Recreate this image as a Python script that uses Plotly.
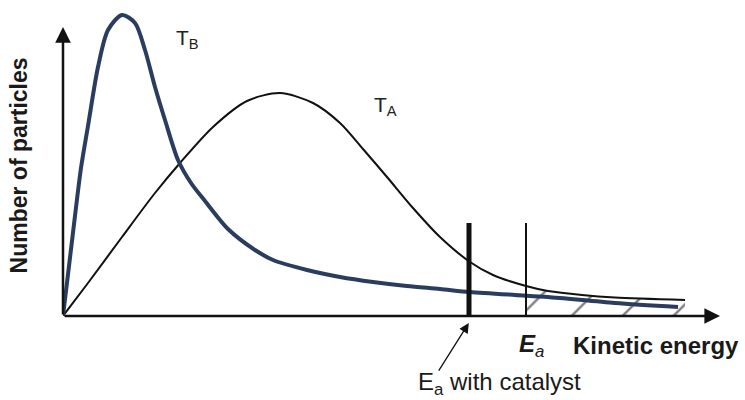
import plotly.graph_objects as go

# Maxwell–Boltzmann style energy distributions at two temperatures
energy_tb = [0, 0.9, 1.8, 2.5, 3.5, 4.5, 5.9, 7.2, 8.2, 9.2, 10.2, 11.5, 12.8, 14.2, 16.5,
             19.2, 21.0, 24.4, 27.7, 31.0, 34.4, 37.7, 40.7, 45.2, 48.5, 55.2, 61.5]
count_tb = [0, 7.5, 14.8, 19.0, 24.9, 28.6, 30.1, 29.3, 26.6, 22.9, 19.6, 15.6, 13.3, 11.5, 8.7,
            6.6, 5.6, 4.6, 3.9, 3.4, 3.0, 2.7, 2.4, 2.1, 1.9, 1.3, 0.9]

energy_ta = [0, 2.5, 5.9, 9.2, 11.7, 15.0, 18.4, 21.7, 25.0, 27.7, 30.0, 32.4, 35.0,
             37.7, 40.7, 43.0, 46.3, 48.5, 51.9, 55.2, 62.2]
count_ta = [0, 3.3, 7.9, 12.3, 15.3, 18.9, 21.5, 22.3, 21.3, 19.3, 16.7, 13.9, 10.8,
            7.9, 5.4, 4.1, 3.0, 2.5, 2.1, 1.85, 1.6]

# activation energies (with and without catalyst)
EA_CATALYST = 40.6
EA = 46.3
EA_MARK_HEIGHT = 9.3

X_MAX = 66.2
Y_MAX = 30.6

INK = "#111111"
BLUE = "#2b3d5e"
FONT = "Liberation Sans, Arial, sans-serif"

fig = go.Figure()

# shaded region of particles above Ea
tail_x = [e for e in energy_ta if e >= EA]
tail_y = [c for e, c in zip(energy_ta, count_ta) if e >= EA]
fig.add_trace(go.Scatter(
    x=tail_x, y=tail_y, mode="lines", line=dict(width=0),
    fill="tozeroy", fillcolor="rgba(0,0,0,0)",
    fillpattern=dict(shape="/", size=36, solidity=0.065,
                     fgcolor="#000000", bgcolor="rgba(0,0,0,0)"),
    hoverinfo="skip", showlegend=False,
))

fig.add_trace(go.Scatter(
    x=energy_ta, y=count_ta, mode="lines",
    line=dict(color=INK, width=2, shape="spline", smoothing=0.8),
    name="T_A", showlegend=False,
))
fig.add_trace(go.Scatter(
    x=energy_tb, y=count_tb, mode="lines",
    line=dict(color=BLUE, width=4, shape="spline", smoothing=0.8),
    name="T_B", showlegend=False,
))

fig.add_shape(type="line", xref="x", yref="y", x0=EA_CATALYST, x1=EA_CATALYST,
              y0=0, y1=EA_MARK_HEIGHT, line=dict(color=INK, width=5))
fig.add_shape(type="line", xref="x", yref="y", x0=EA, x1=EA,
              y0=0, y1=EA_MARK_HEIGHT, line=dict(color=INK, width=2))


def label_font(size):
    return dict(size=size, color="#1a1a1a", family=FONT)


annotations = [
    # axes drawn as arrows
    dict(x=65.7, y=0, ax=0, ay=0, xref="x", yref="y", axref="x", ayref="y",
         text="", showarrow=True, arrowhead=2, arrowsize=1.25, arrowwidth=2.5,
         arrowcolor=INK),
    dict(x=0, y=28.9, ax=0, ay=0, xref="x", yref="y", axref="x", ayref="y",
         text="", showarrow=True, arrowhead=2, arrowsize=1.25, arrowwidth=2.5,
         arrowcolor=INK),
    # pointer to the catalysed activation energy
    dict(x=0.613, y=-0.023, xref="paper", yref="paper", ax=-31, ay=49,
         text="", showarrow=True, arrowhead=2, arrowsize=1.5, arrowwidth=1.3,
         arrowcolor=INK),
    dict(x=0.660, y=-0.219, xref="paper", yref="paper",
         xanchor="center", yanchor="middle",
         text="E<sub>a</sub> with catalyst", showarrow=False, font=label_font(24)),
    dict(x=0.708, y=-0.098, xref="paper", yref="paper",
         xanchor="center", yanchor="middle",
         text="<b><i>E</i></b><i><sub>a</sub></i>", showarrow=False,
         font=label_font(24)),
    dict(x=0.896, y=-0.098, xref="paper", yref="paper",
         xanchor="center", yanchor="middle",
         text="<b>Kinetic energy</b>", showarrow=False, font=label_font(24)),
    dict(x=-0.066, y=0.493, xref="paper", yref="paper",
         xanchor="center", yanchor="middle",
         text="<b>Number of particles</b>", textangle=-90, showarrow=False,
         font=label_font(23)),
    dict(x=11.1, y=27.7, xref="x", yref="y", text="T<sub>B</sub>", xanchor="left",
         showarrow=False, font=dict(size=21, color="#222222", family=FONT)),
    dict(x=30.9, y=21.0, xref="x", yref="y", text="T<sub>A</sub>", xanchor="left",
         showarrow=False, font=dict(size=21, color="#222222", family=FONT)),
]

fig.update_layout(
    width=745, height=400,
    margin=dict(l=63, r=20, t=10, b=84),
    paper_bgcolor="white", plot_bgcolor="white",
    xaxis=dict(range=[0, X_MAX], visible=False, fixedrange=True),
    yaxis=dict(range=[0, Y_MAX], visible=False, fixedrange=True),
    annotations=annotations,
    showlegend=False,
)

fig.write_html("out.html", config={"displayModeBar": False})
